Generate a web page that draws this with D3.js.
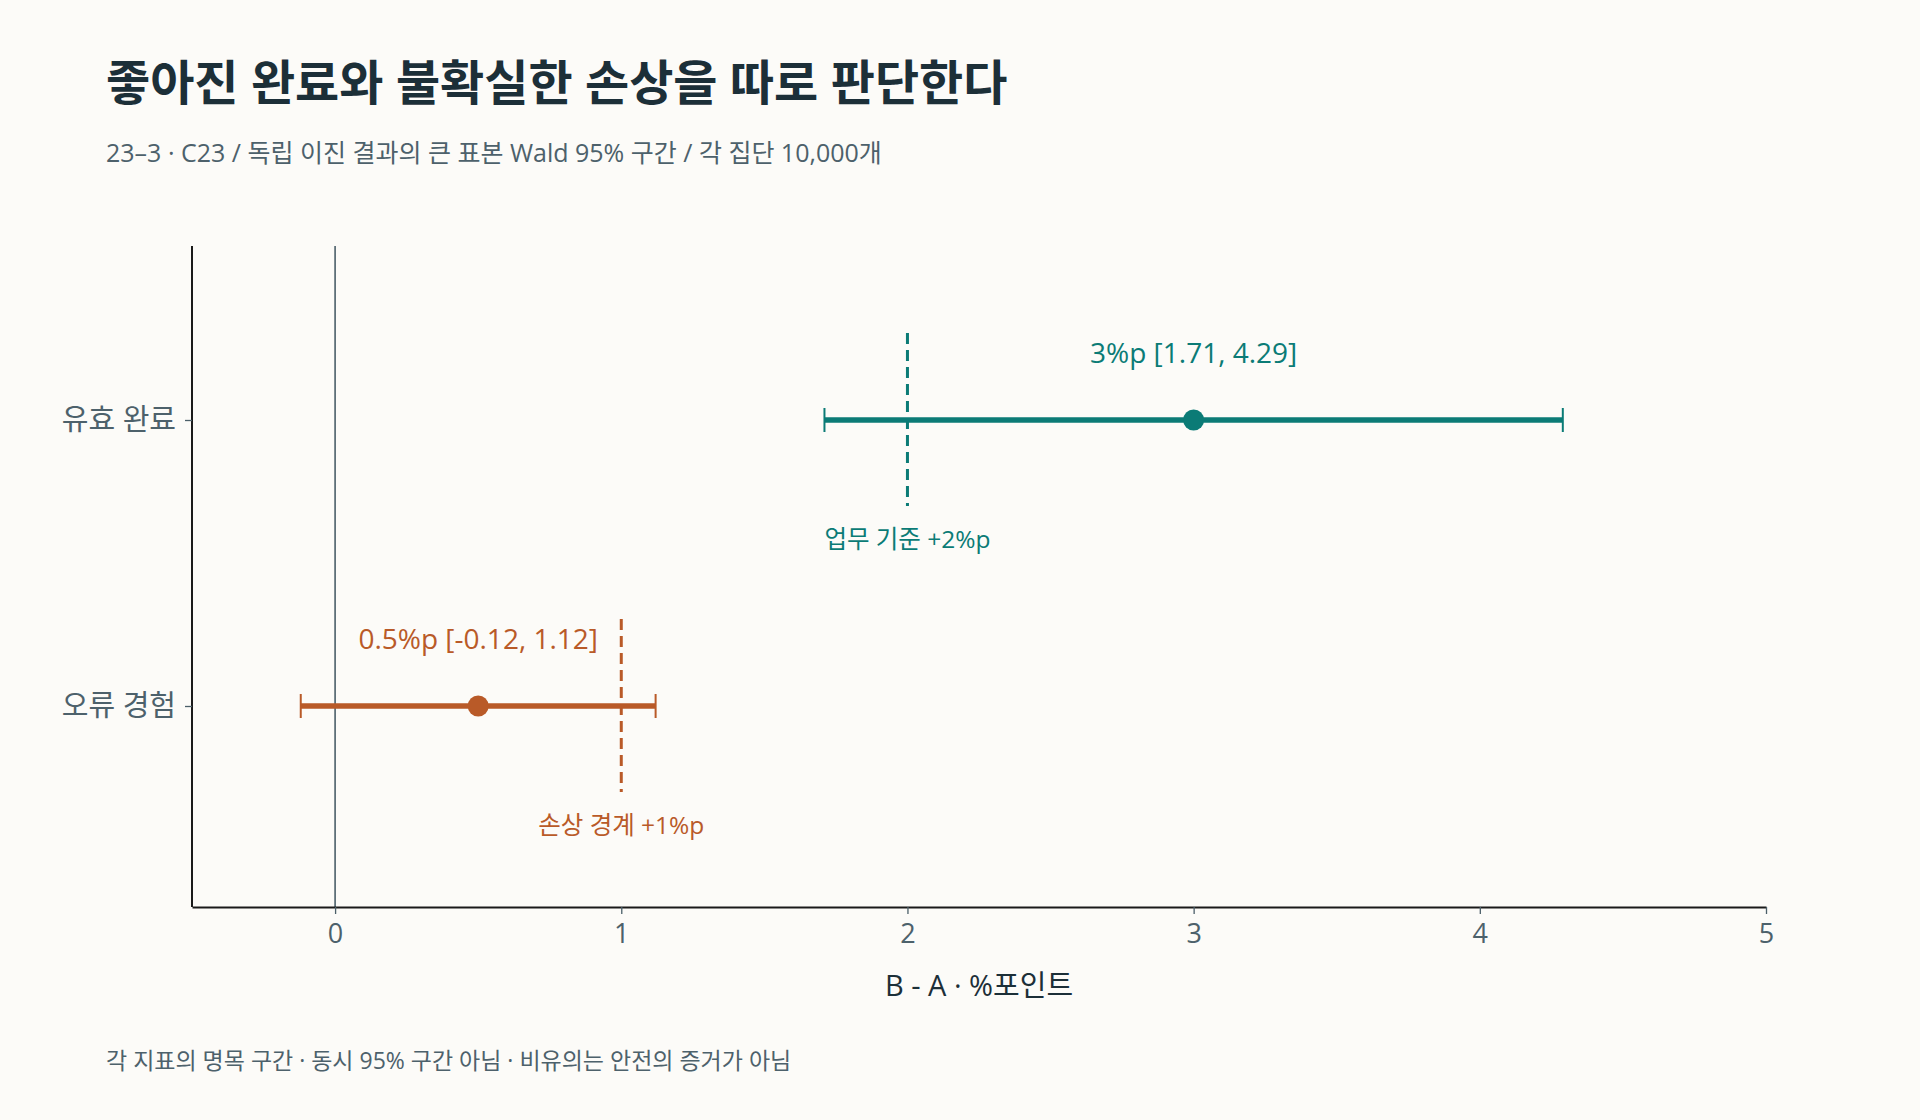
<!DOCTYPE html>
<html><head><meta charset="utf-8">
<script src="https://cdn.jsdelivr.net/npm/d3@7"></script>
<style>
html,body{margin:0;padding:0;background:#fcfbf8;}
svg{display:block;font-family:"Open Sans","Noto Sans CJK KR",sans-serif;}
</style></head>
<body>
<svg id="chart" width="1920" height="1120"></svg>
<script>
const categories = ["유효 완료", "오류 경험"];
const estimates = [3, 0.5];
const lowers = [1.71, -0.12];
const uppers = [4.29, 1.12];
const thresholds = [2, 1];
const thresholdLabels = ["업무 기준 +2%p", "손상 경계 +1%p"];
const valueLabels = ["3%p [1.71, 4.29]", "0.5%p [-0.12, 1.12]"];
const seriesColors = ["#0b7b76", "#b95a28"];
const xTicks = [0, 1, 2, 3, 4, 5];

const svg = d3.select("#chart");
const W = 1920, H = 1120;
const m = {left: 192, right: 154, top: 246, bottom: 213};
const x = d3.scaleLinear().domain([-0.5, 5]).range([m.left, W - m.right]);
const y = d3.scalePoint().domain(categories).range([420, 706]);
const plotBottom = H - m.bottom;
const FF = "'Open Sans','Noto Sans CJK KR',sans-serif";

svg.append("rect").attr("width", W).attr("height", H).attr("fill", "#fcfbf8");

svg.append("text").attr("x", 106).attr("y", 100)
  .attr("font-size", 48).attr("font-weight", 700).attr("fill", "#1c2f38")
  .text("좋아진 완료와 불확실한 손상을 따로 판단한다");
svg.append("text").attr("x", 106).attr("y", 162)
  .attr("font-size", 25).attr("fill", "#4d616b")
  .text("23–3 · C23 / 독립 이진 결과의 큰 표본 Wald 95% 구간 / 각 집단 10,000개");

svg.append("line").attr("x1", x(0)).attr("x2", x(0)).attr("y1", m.top).attr("y2", plotBottom)
  .attr("stroke", "#4b5f69").attr("stroke-width", 1.6);

const xAxis = svg.append("g").attr("transform", `translate(0,${plotBottom})`)
  .call(d3.axisBottom(x).tickValues(xTicks).tickFormat(d3.format("d")).tickSize(7).tickSizeOuter(0).tickPadding(10));
xAxis.select(".domain").attr("stroke", "#1a1a1a").attr("stroke-width", 2);
xAxis.selectAll(".tick line").attr("stroke", "#4b5f69").attr("stroke-width", 1.3);
xAxis.selectAll(".tick text").attr("font-size", 27).attr("fill", "#4d616b").attr("font-family", FF);

const yAxis = svg.append("g").attr("transform", `translate(${m.left},0)`)
  .call(d3.axisLeft(y).tickSize(7).tickPadding(9));
yAxis.select(".domain").attr("d", `M0,${m.top}V${plotBottom}`).attr("stroke", "#1a1a1a").attr("stroke-width", 2);
yAxis.selectAll(".tick line").attr("stroke", "#4b5f69").attr("stroke-width", 1.3);
yAxis.selectAll(".tick text").attr("font-size", 29).attr("fill", "#4d616b").attr("font-family", FF);

svg.append("text").attr("x", (m.left + W - m.right) / 2).attr("y", 996)
  .attr("text-anchor", "middle").attr("font-size", 29).attr("fill", "#1c2f38")
  .text("B - A · %포인트");

categories.forEach((c, i) => {
  const g = svg.append("g");
  const cy = y(c), col = seriesColors[i];
  g.append("line").attr("x1", x(thresholds[i])).attr("x2", x(thresholds[i]))
    .attr("y1", cy - 87).attr("y2", cy + 86)
    .attr("stroke", col).attr("stroke-width", 3).attr("stroke-dasharray", "11,6");
  g.append("line").attr("x1", x(lowers[i])).attr("x2", x(uppers[i]))
    .attr("y1", cy).attr("y2", cy).attr("stroke", col).attr("stroke-width", 5.5);
  [lowers[i], uppers[i]].forEach(v => {
    g.append("line").attr("x1", x(v)).attr("x2", x(v)).attr("y1", cy - 12).attr("y2", cy + 12)
      .attr("stroke", col).attr("stroke-width", 2);
  });
  g.append("circle").attr("cx", x(estimates[i])).attr("cy", cy).attr("r", 10.5).attr("fill", col);
  g.append("text").attr("x", x(estimates[i])).attr("y", cy - 57)
    .attr("text-anchor", "middle").attr("font-size", 28).attr("fill", col).text(valueLabels[i]);
  g.append("text").attr("x", x(thresholds[i])).attr("y", cy + 128)
    .attr("text-anchor", "middle").attr("font-size", 24.5).attr("fill", col).text(thresholdLabels[i]);
});

svg.append("text").attr("x", 106).attr("y", 1069)
  .attr("font-size", 23).attr("fill", "#4d616b")
  .text("각 지표의 명목 구간 · 동시 95% 구간 아님 · 비유의는 안전의 증거가 아님");
</script>
</body></html>
